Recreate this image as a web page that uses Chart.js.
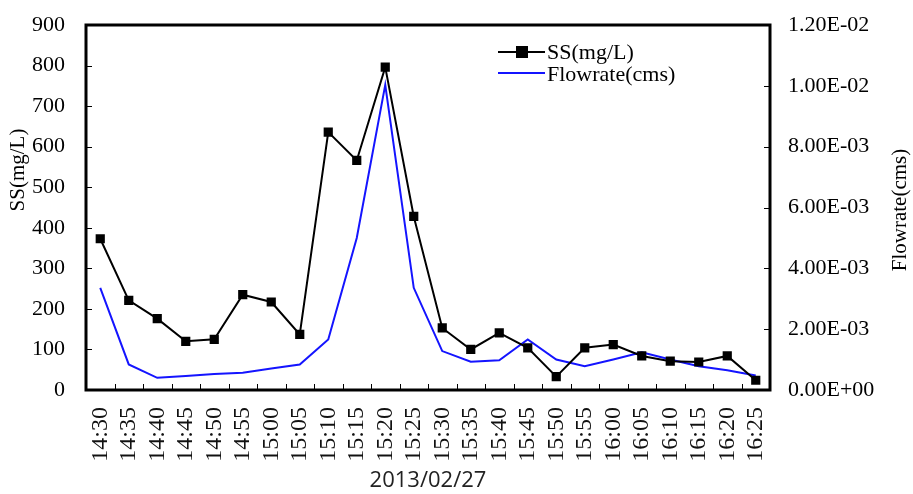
<!DOCTYPE html>
<html>
<head>
<meta charset="utf-8">
<script src="https://cdn.jsdelivr.net/npm/chart.js@4/dist/chart.umd.min.js"></script>
<style>
  html, body { margin: 0; padding: 0; background: #fff; }
  canvas { display: block; }
</style>
</head>
<body>
<canvas id="chart" width="913" height="494"></canvas>
<script>
// Sampling times (5-minute steps on 2013/02/27)
const times = ['14:30','14:35','14:40','14:45','14:50','14:55','15:00','15:05','15:10','15:15','15:20','15:25',
               '15:30','15:35','15:40','15:45','15:50','15:55','16:00','16:05','16:10','16:15','16:20','16:25'];

// Suspended solids, mg/L
const ssValues = [373, 221, 176, 120, 125, 235, 217, 137, 636, 566, 796, 428,
                  153, 100, 141, 104, 33, 104, 112, 84, 71, 69, 84, 24];

// Flowrate, cms
const flowValues = [3.36e-3, 0.84e-3, 0.40e-3, 0.46e-3, 0.53e-3, 0.57e-3, 0.71e-3, 0.84e-3, 1.66e-3, 5.0e-3, 10.03e-3, 3.36e-3,
                    1.28e-3, 0.93e-3, 0.98e-3, 1.66e-3, 1.0e-3, 0.78e-3, 1.0e-3, 1.24e-3, 1.0e-3, 0.78e-3, 0.65e-3, 0.48e-3];

const ssTicks = [0, 100, 200, 300, 400, 500, 600, 700, 800, 900];
const flowTicks = ['0.00E+00', '2.00E-03', '4.00E-03', '6.00E-03', '8.00E-03', '1.00E-02', '1.20E-02'];

const serif = "'Liberation Serif', 'Times New Roman', serif";
const BLUE = '#1414ff';

// frame, inward tick marks, axis titles and the legend box
const framePlugin = {
  id: 'frame',
  afterDraw(chart) {
    const { ctx, chartArea: a, scales } = chart;
    ctx.save();
    ctx.strokeStyle = '#000';
    ctx.lineWidth = 1;
    ctx.beginPath();
    scales.y.ticks.forEach(t => {
      const py = Math.round(scales.y.getPixelForValue(t.value)) + 0.5;
      ctx.moveTo(a.left, py); ctx.lineTo(a.left + 6, py);
    });
    scales.y1.ticks.forEach(t => {
      const py = Math.round(scales.y1.getPixelForValue(t.value)) + 0.5;
      ctx.moveTo(a.right, py); ctx.lineTo(a.right - 6, py);
    });
    for (let i = 1; i < times.length; i++) {
      const px = Math.round((scales.x.getPixelForValue(i - 1) + scales.x.getPixelForValue(i)) / 2) + 0.5;
      ctx.moveTo(px, a.bottom); ctx.lineTo(px, a.bottom - 6);
    }
    ctx.stroke();

    ctx.lineWidth = 3;
    ctx.strokeRect(a.left, a.top, a.right - a.left, a.bottom - a.top);

    // axis titles
    ctx.fillStyle = '#000';
    ctx.textAlign = 'center';
    ctx.textBaseline = 'middle';
    ctx.font = '21px ' + serif;
    ctx.save();
    ctx.translate(18, 170);
    ctx.rotate(-Math.PI / 2);
    ctx.fillText('SS(mg/L)', 0, 0);
    ctx.restore();
    ctx.save();
    ctx.translate(900, 210);
    ctx.rotate(-Math.PI / 2);
    ctx.fillText('Flowrate(cms)', 0, 0);
    ctx.restore();
    ctx.fillStyle = '#222';
    ctx.font = "22px 'Open Sans', 'Liberation Sans', sans-serif";
    ctx.fillText('2013/02/27', (a.left + a.right) / 2, 481);

    // legend
    const lx = a.left + 412, ly1 = a.top + 27, ly2 = a.top + 48;
    ctx.lineWidth = 2;
    ctx.strokeStyle = '#000';
    ctx.beginPath(); ctx.moveTo(lx, ly1); ctx.lineTo(lx + 47, ly1); ctx.stroke();
    ctx.fillStyle = '#000';
    ctx.fillRect(lx + 18, ly1 - 6, 12, 12);
    ctx.strokeStyle = BLUE;
    ctx.beginPath(); ctx.moveTo(lx, ly2); ctx.lineTo(lx + 47, ly2); ctx.stroke();
    ctx.font = '22px ' + serif;
    ctx.textAlign = 'left';
    ctx.fillText('SS(mg/L)', lx + 49, ly1 + 1);
    ctx.fillText('Flowrate(cms)', lx + 49, ly2 + 2);
    ctx.restore();
  }
};

function pinWidth(w) {
  return s => { s.width = w; s.paddingTop = 0; s.paddingBottom = 0; };
}

new Chart(document.getElementById('chart'), {
  type: 'line',
  data: {
    labels: times,
    datasets: [
      {
        label: 'SS(mg/L)',
        data: ssValues,
        yAxisID: 'y',
        borderColor: '#000',
        backgroundColor: '#000',
        borderWidth: 2,
        pointStyle: 'rect',
        pointRadius: 6.5,
        pointBorderWidth: 0,
        tension: 0
      },
      {
        label: 'Flowrate(cms)',
        data: flowValues,
        yAxisID: 'y1',
        borderColor: BLUE,
        borderWidth: 2,
        pointRadius: 0,
        tension: 0
      }
    ]
  },
  options: {
    responsive: false,
    animation: false,
    layout: { padding: { top: 25, left: 0, right: 0, bottom: 0 } },
    plugins: {
      legend: { display: false },
      tooltip: { enabled: false }
    },
    scales: {
      x: {
        offset: true,
        grid: { display: false, drawTicks: false },
        border: { display: false },
        ticks: {
          color: '#111',
          font: { family: serif, size: 24 },
          minRotation: 90,
          maxRotation: 90,
          autoSkip: false,
          padding: 17
        },
        afterFit(s) { s.height = 104; s.paddingLeft = 0; s.paddingRight = 0; }
      },
      y: {
        position: 'left',
        min: 0,
        max: 900,
        grid: { display: false, drawTicks: false },
        border: { display: false },
        afterBuildTicks(s) { s.ticks = ssTicks.map(v => ({ value: v })); },
        ticks: {
          color: '#000',
          font: { family: serif, size: 22 },
          padding: 21
        },
        afterFit: pinWidth(86)
      },
      y1: {
        position: 'right',
        min: 0,
        max: 0.012,
        grid: { display: false, drawTicks: false },
        border: { display: false },
        afterBuildTicks(s) { s.ticks = flowTicks.map(t => ({ value: parseFloat(t) })); },
        ticks: {
          color: '#000',
          font: { family: serif, size: 22 },
          padding: 18,
          callback: (v, i) => flowTicks[i]
        },
        afterFit: pinWidth(143)
      }
    }
  },
  plugins: [framePlugin]
});
</script>
</body>
</html>
